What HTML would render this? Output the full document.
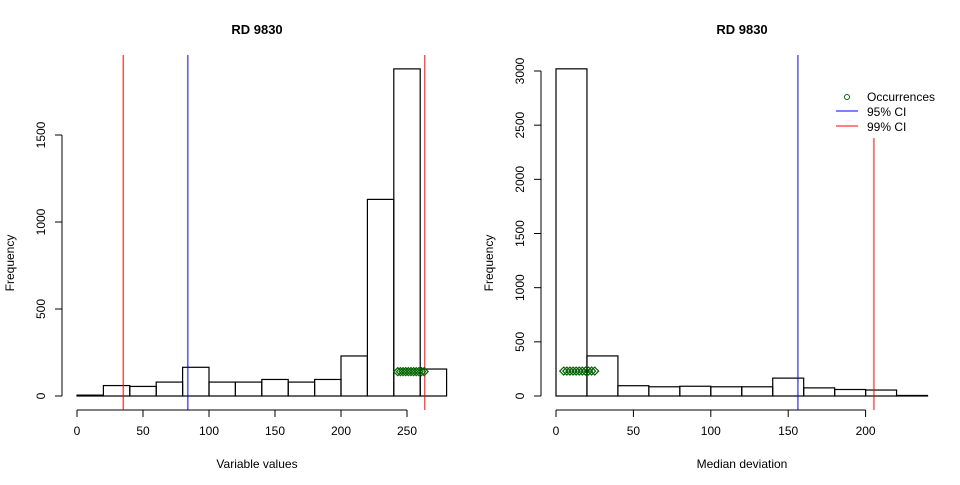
<!DOCTYPE html>
<html><head><meta charset="utf-8"><style>
body{margin:0;background:#fff;width:960px;height:480px;overflow:hidden}
svg{font-family:"Liberation Sans",Arial,sans-serif}
</style></head><body>
<svg id="c" width="960" height="480" xmlns="http://www.w3.org/2000/svg"></svg>
<script>
const leftBinStarts=[0,20,40,60,80,100,120,140,160,180,200,220,240,260];
const leftCounts=[5,60,55,80,165,80,80,95,80,95,230,1130,1880,155];
const leftXTicks=[0,50,100,150,200,250];
const leftYTicks=[0,500,1000,1500];
const leftLines95=[84];
const leftLines99=[35,263.5];
const leftOcc=[243,245,247,249,251,253,255,257,259,261,263];
const leftOccY=140;
const rightBinStarts=[0,20,40,60,80,100,120,140,160,180,200,220];
const rightCounts=[3020,370,95,85,90,85,85,165,75,60,55,5];
const rightXTicks=[0,50,100,150,200];
const rightYTicks=[0,500,1000,1500,2000,2500,3000];
const rightLines95=[156.3];
const rightLines99=[205.4];
const rightOcc=[5,7,9,11,13,15,17,19,21,23,25];
const rightOccY=230;
const binW=20;

const svg=document.getElementById('c');
const NS='http://www.w3.org/2000/svg';
function mk(tag,attrs,parent){const e=document.createElementNS(NS,tag);for(const k in attrs)e.setAttribute(k,attrs[k]);(parent||svg).appendChild(e);return e;}
function txt(x,y,s,attrs){const e=mk('text',Object.assign({x:x,y:y,'font-size':12,'text-anchor':'middle',fill:'#000'},attrs||{}));e.textContent=s;return e;}

function panel(o){
  const g=mk('g',{});
  
  
  const xs=v=>o.x0+(v-o.xmin)*o.xk;
  const ys=v=>o.y0-v*o.yk;
  const t=txt(o.cx,34,'RD 9830',{'font-weight':'bold','font-size':13});
  
  // bars
  o.bins.forEach((b,i)=>{
    const r=mk('rect',{x:xs(b),y:ys(o.counts[i]),width:xs(b+binW)-xs(b),height:ys(0)-ys(o.counts[i]),fill:'none',stroke:'#000','stroke-width':1.2});
    
    
  });
  // x axis
  const xa=mk('line',{x1:xs(o.xt[0]),x2:xs(o.xt[o.xt.length-1]),y1:410,y2:410,stroke:'#000'});
  
  o.xt.forEach(v=>{mk('line',{x1:xs(v),x2:xs(v),y1:410,y2:417,stroke:'#000'});
    const l=txt(xs(v),435,String(v));});
  const ya=mk('line',{x1:o.yax,x2:o.yax,y1:ys(o.yt[0]),y2:ys(o.yt[o.yt.length-1]),stroke:'#000'});
  
  o.yt.forEach(v=>{mk('line',{x1:o.yax-7,x2:o.yax,y1:ys(v),y2:ys(v),stroke:'#000'});
    const l=txt(o.yax-17,ys(v),String(v),{transform:`rotate(-90 ${o.yax-17} ${ys(v)})`});});
  const xt=txt(o.cx,468,o.xlabel);
  const yl=txt(o.yax-48,263,'Frequency',{transform:`rotate(-90 ${o.yax-48} 263)`});
  o.l95.forEach(v=>{const l=mk('line',{x1:xs(v),x2:xs(v),y1:55,y2:410,stroke:'#0000ff'});});
  o.l99.forEach(v=>{const l=mk('line',{x1:xs(v),x2:xs(v),y1:o.redTop,y2:410,stroke:'#ff0000'});});
  o.occ.forEach(v=>{const cx=xs(v),cy=ys(o.occY);
    const p=mk('polygon',{points:`${cx-4},${cy} ${cx},${cy-4} ${cx+4},${cy} ${cx},${cy+4}`,fill:'none',stroke:'#006400','stroke-width':1.2});
    });
}
panel({name:'left-histogram',x0:77,xmin:0,xk:66/50,y0:396,yk:87/500,cx:257,yax:62,xt:leftXTicks,yt:leftYTicks,bins:leftBinStarts,counts:leftCounts,xlabel:'Variable values',l95:leftLines95,l99:leftLines99,occ:leftOcc,occY:leftOccY,redTop:55});
panel({name:'right-histogram',x0:556,xmin:0,xk:77.4/50,y0:396,yk:325/3000,cx:742,yax:541,xt:rightXTicks,yt:rightYTicks,bins:rightBinStarts,counts:rightCounts,xlabel:'Median deviation',l95:rightLines95,l99:rightLines99,occ:rightOcc,occY:rightOccY,redTop:138});
// legend
const lg=mk('g',{});
mk('circle',{cx:847,cy:97,r:2.5,fill:'none',stroke:'#006400'},lg);
mk('line',{x1:836,x2:858,y1:111,y2:111,stroke:'#0000ff'},lg);
mk('line',{x1:836,x2:858,y1:126,y2:126,stroke:'#ff0000'},lg);
[['Occurrences',101],['95% CI',116],['99% CI',131]].forEach(a=>{const t=txt(867,a[1],a[0],{'text-anchor':'start'});lg.appendChild(t);});
</script>
</body></html>
